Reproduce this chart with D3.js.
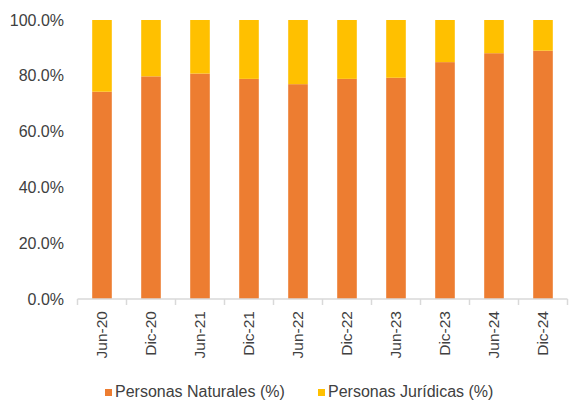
<!DOCTYPE html>
<html><head><meta charset="utf-8">
<script src="https://cdn.jsdelivr.net/npm/d3@7"></script>
<style>body{margin:0;background:#fff}svg{display:block}text{font-family:"Liberation Sans",Arial,sans-serif;fill:#404040}</style>
</head><body><svg id="c" width="571" height="404"></svg>
<script>
const categories = ["Jun-20","Dic-20","Jun-21","Dic-21","Jun-22","Dic-22","Jun-23","Dic-23","Jun-24","Dic-24"];
const naturales = [74.3,79.8,80.8,78.9,77.0,78.9,79.3,84.9,88.1,89.0];
const juridicas = naturales.map(v => +(100 - v).toFixed(1));
const yTicks = [0,20,40,60,80,100];
const seriesNames = ["Personas Naturales (%)","Personas Jurídicas (%)"];
const colors = ["#ED7D31","#FFC000"];

const svg = d3.select("#c");
const x = d3.scaleBand().domain(categories).range([77.5,567.5]).paddingInner(0.6).paddingOuter(0.3);
const y = d3.scaleLinear().domain([0,100]).range([299,20]);

const data = categories.map((c,i)=>({cat:c, nat:naturales[i], jur:juridicas[i]}));
const stack = d3.stack().keys(["nat","jur"])(data);
svg.append("g").selectAll("g").data(stack).join("g").attr("fill",(d,i)=>colors[i])
  .selectAll("rect").data(d=>d).join("rect")
  .attr("x",d=>x(d.data.cat)).attr("width",x.bandwidth())
  .attr("y",d=>y(d[1])).attr("height",d=>y(d[0])-y(d[1]));

// y axis labels
const ya = svg.append("g").attr("transform","translate(64,0)")
  .call(d3.axisLeft(y).tickValues(yTicks).tickSize(0).tickPadding(0).tickFormat(d=>d3.format(".1f")(d)+"%"));
ya.select(".domain").remove();
ya.selectAll("text").attr("font-size","16px").attr("font-family","Liberation Sans, Arial, sans-serif").attr("fill","#404040");

// x axis
const xa = svg.append("g").attr("transform","translate(0,299)");
xa.append("line").attr("x1",77.5).attr("x2",567.5).attr("stroke","#d9d9d9").attr("stroke-width",1.5);
const bounds = categories.map(c=>x(c)-x.step()*x.paddingInner()/2*1/1 - (x.step()-x.bandwidth())/2 + x.step()*x.paddingInner()/2);
const edges = d3.range(categories.length+1).map(i=>77.5 + i*(490/categories.length));
xa.selectAll("line.t").data(edges).join("line").attr("class","t")
  .attr("x1",d=>d).attr("x2",d=>d).attr("y1",0).attr("y2",6).attr("stroke","#d9d9d9").attr("stroke-width",1.5);
xa.selectAll("text").data(categories).join("text")
  .attr("transform",d=>`translate(${x(d)+x.bandwidth()/2+5},12) rotate(-90)`)
  .attr("text-anchor","end").attr("font-size","15.5px").text(d=>d);

// legend
const leg = [{x:105,tx:115},{x:318,tx:328}];
const lg = svg.append("g");
leg.forEach((l,i)=>{
  lg.append("rect").attr("x",l.x).attr("y",389).attr("width",7).attr("height",7).attr("fill",colors[i]);
  lg.append("text").attr("x",l.tx).attr("y",397).attr("font-size","16px").text(seriesNames[i]);
});
</script></body></html>
